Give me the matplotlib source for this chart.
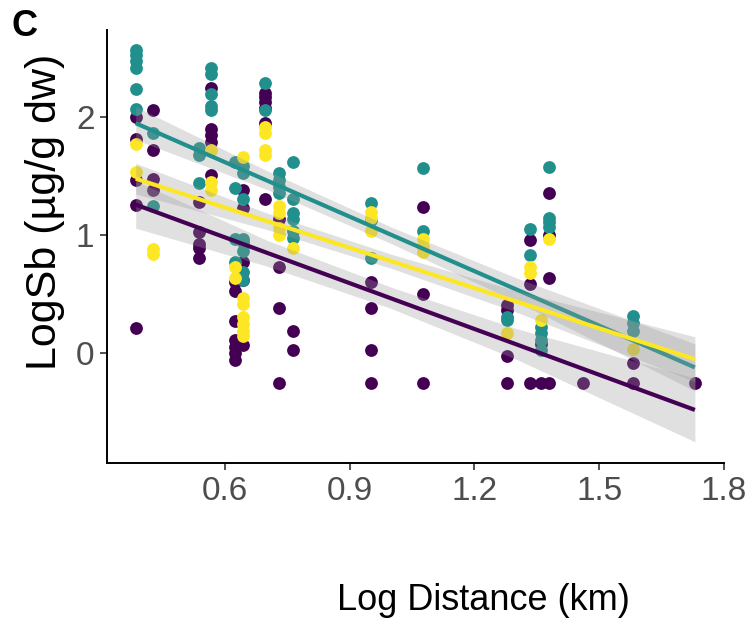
import numpy as np
import matplotlib
matplotlib.use('Agg')
import matplotlib.pyplot as plt

plt.rcParams['font.family'] = ['Liberation Sans', 'DejaVu Sans']

# points, per group (x = log distance, y = log Sb)
purple_x = [0.386]*5 + [0.428]*4 + [0.537]*5 + [0.568]*5 + [0.624]*7 + [0.643]*5 \
    + [0.696]*6 + [0.730]*4 + [0.764]*2 + [0.952]*4 + [1.077]*3 + [1.278]*4 \
    + [1.334]*3 + [1.360]*2 + [1.380]*4 + [1.461] + [1.582]*2 + [1.730]
purple_y = [2.00, 1.82, 1.47, 1.26, 0.21,
            2.06, 1.72, 1.48, 1.38,
            1.28, 1.03, 0.93, 0.89, 0.81,
            2.25, 1.90, 1.85, 1.79, 1.51,
            0.60, 0.53, 0.27, 0.11, 0.05, 0.00, -0.06,
            1.38, 1.23, 0.77, 0.62, 0.07,
            2.21, 2.17, 2.13, 2.08, 1.95, 1.31,
            1.14, 0.73, 0.38, -0.25,
            0.19, 0.03,
            0.60, 0.38, 0.03, -0.25,
            1.24, 0.50, -0.25,
            0.41, 0.37, -0.02, -0.25,
            0.96, 0.59, -0.25,
            0.08, -0.25,
            1.36, 1.00, 0.64, -0.25,
            -0.25,
            -0.08, -0.25,
            -0.25]

teal_x = [0.386]*6 + [0.428]*2 + [0.537]*3 + [0.568]*5 + [0.624]*4 + [0.643]*8 \
    + [0.696]*2 + [0.730]*4 + [0.764]*6 + [0.952]*3 + [1.077]*2 + [1.278]*2 \
    + [1.334]*2 + [1.360]*4 + [1.380]*4 + [1.582]*3
teal_y = [2.57, 2.53, 2.48, 2.42, 2.24, 2.07,
          1.87, 1.25,
          1.74, 1.68, 1.44,
          2.42, 2.37, 2.20, 2.10, 2.06,
          1.62, 1.40, 0.97, 0.77,
          1.59, 1.53, 1.31, 0.97, 0.94, 0.87, 0.69, 0.62,
          2.29, 2.06,
          1.53, 1.47, 1.41, 1.36,
          1.62, 1.31, 1.19, 1.14, 1.04, 0.98,
          1.27, 1.13, 0.81,
          1.57, 1.04,
          0.31, 0.28,
          1.05, 0.83,
          0.22, 0.17, 0.11, 0.03,
          1.58, 1.15, 1.11, 1.07,
          0.32, 0.26, 0.19]

yellow_x = [0.386]*2 + [0.428]*2 + [0.568]*3 + [0.624]*2 + [0.643]*7 + [0.696]*4 \
    + [0.730]*4 + [0.764] + [0.952]*3 + [1.077]*3 + [1.278] + [1.334]*2 \
    + [1.360] + [1.380] + [1.582]
yellow_y = [1.77, 1.54,
            0.88, 0.84,
            1.72, 1.45, 1.38,
            0.73, 0.64,
            1.66, 0.47, 0.42, 0.31, 0.25, 0.19, 0.15,
            1.92, 1.87, 1.72, 1.68,
            1.25, 1.19, 1.06, 1.00,
            0.89,
            1.20, 1.15, 1.04,
            0.97, 0.90, 0.86,
            0.17,
            0.73, 0.68,
            0.28,
            0.97,
            0.04]

# fitted lines (end points) and confidence bands
fit_x = [0.386, 1.730]
purple_fit = [1.26, -0.48]
teal_fit = [1.95, -0.12]
yellow_fit = [1.48, -0.05]

band_x = [0.386, 0.7, 1.0, 1.3, 1.730]
purple_lo = [1.06, 0.74, 0.38, -0.05, -0.75]
purple_hi = [1.46, 0.96, 0.56, 0.21, -0.21]
teal_lo = [1.81, 1.39, 0.93, 0.44, -0.32]
teal_hi = [2.09, 1.55, 1.07, 0.64, 0.08]
yellow_lo = [1.35, 1.05, 0.72, 0.35, -0.24]
yellow_hi = [1.61, 1.19, 0.84, 0.53, 0.14]

colors = {'purple': '#440154', 'teal': '#21908C', 'yellow': '#FDE725'}

fig = plt.figure(figsize=(7.52, 6.21), dpi=100)
ax = fig.add_axes([107/752, 1 - 463/621, (724 - 107)/752, (463 - 30)/621])

ax.scatter(purple_x, purple_y, s=85, color=colors['purple'], linewidths=0, zorder=2)
ax.scatter(teal_x, teal_y, s=85, color=colors['teal'], linewidths=0, zorder=2)
ax.scatter(yellow_x, yellow_y, s=85, color=colors['yellow'], linewidths=0, zorder=2)

groups = [
    (purple_lo, purple_hi, purple_fit, colors['purple']),
    (teal_lo, teal_hi, teal_fit, colors['teal']),
    (yellow_lo, yellow_hi, yellow_fit, colors['yellow']),
]
z = 3
for lo, hi, fit, c in groups:
    ax.fill_between(band_x, lo, hi, color='#999999', alpha=0.3, linewidth=0, zorder=z)
    ax.plot(fit_x, fit, color=c, linewidth=3, solid_capstyle='butt', zorder=z + 1)
    z += 2

ax.set_xlim(0.317, 1.80)
ax.set_ylim(-0.93, 2.74)
ax.set_xticks([0.6, 0.9, 1.2, 1.5, 1.8])
ax.set_xticklabels(['0.6', '0.9', '1.2', '1.5', '1.8'])
ax.set_yticks([0, 1, 2])
ax.spines['top'].set_visible(False)
ax.spines['right'].set_visible(False)
for sp in ['left', 'bottom']:
    ax.spines[sp].set_linewidth(1.4)
    ax.spines[sp].set_color('black')
ax.tick_params(axis='both', length=5, width=1.2, color='#333333',
               labelcolor='#4D4D4D', labelsize=24, pad=4)

fig.text(483/752, 1 - 600/621, 'Log Distance (km)', ha='center', va='center',
         fontsize=26, color='black')
fig.text(45/752, 1 - 212/621, 'LogSb (µg/g dw)', ha='center', va='center',
         rotation=90, fontsize=31, color='black')
fig.text(12/752, 1 - 27/621, 'C', ha='left', va='center', fontsize=26,
         fontweight='bold', color='black')

fig.savefig('out.png', dpi=100)
